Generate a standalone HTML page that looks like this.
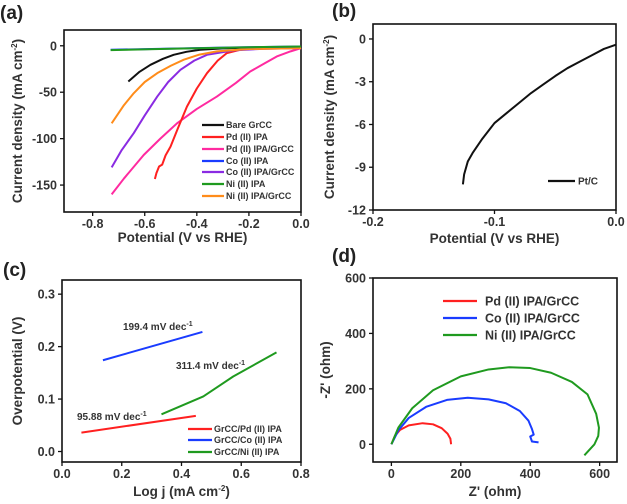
<!DOCTYPE html>
<html><head><meta charset="utf-8"><style>
html,body{margin:0;padding:0;background:#fff;}
svg{display:block;font-family:"Liberation Sans",Arial,sans-serif;font-weight:bold;}
</style></head><body>
<svg id="fig" width="627" height="504" viewBox="0 0 627 504" xmlns="http://www.w3.org/2000/svg"></svg>
<script>
// ---- Panel (a) data ----
const aBareX=[-0.663,-0.62,-0.578,-0.53,-0.489,-0.44,-0.387,-0.3,-0.2,0];
const aBareY=[-38.5,-28,-20.5,-14,-9.7,-6.5,-4.3,-2.8,-2,-1.5];
const aPdX=[-0.561,-0.555,-0.553,-0.545,-0.533,-0.52,-0.501,-0.47,-0.438,-0.4,-0.361,-0.32,-0.285,-0.234,-0.15,0];
const aPdY=[-143.5,-137,-135.6,-130,-128,-118,-108.6,-87,-65.5,-46,-29.5,-16,-7.9,-4.3,-2.5,-1.8];
const aPdGX=[-0.727,-0.68,-0.604,-0.54,-0.476,-0.4,-0.323,-0.25,-0.195,-0.14,-0.093,-0.04,0];
const aPdGY=[-160,-143,-117.6,-100,-83.5,-68,-54.7,-40,-27.7,-19,-11.5,-6,-2.5];
const aCoX=[-0.731,-0.5,-0.25,0];
const aCoY=[-4.3,-3,-1.7,-0.7];
const aCoGX=[-0.727,-0.69,-0.642,-0.6,-0.552,-0.51,-0.463,-0.41,-0.361,-0.259,-0.15,0];
const aCoGY=[-131,-113,-94,-75,-54.7,-39,-25.9,-16,-9.7,-5,-3.3,-2.5];
const aNiX=[-0.731,-0.5,-0.25,0];
const aNiY=[-4.7,-3.2,-1.8,-0.7];
const aNiGX=[-0.727,-0.68,-0.642,-0.6,-0.552,-0.5,-0.45,-0.39,-0.323,-0.2,0];
const aNiGY=[-83.5,-64,-51,-39,-29.5,-21.5,-15,-9.5,-6,-3.5,-2.5];
const aXTicks=[-0.8,-0.6,-0.4,-0.2,0.0];
const aXTickLabels=["-0.8","-0.6","-0.4","-0.2","0.0"];
const aYTicks=[0,-50,-100,-150];
const aYTickLabels=["0","-50","-100","-150"];
const aLegend=["Bare GrCC","Pd (II) IPA","Pd (II) IPA/GrCC","Co (II) IPA","Co (II) IPA/GrCC","Ni (II) IPA","Ni (II) IPA/GrCC"];
// ---- Panel (b) data ----
const bX=[-0.126,-0.125,-0.122,-0.118,-0.11,-0.1,-0.09,-0.08,-0.07,-0.06,-0.05,-0.04,-0.03,-0.02,-0.01,0];
const bY=[-10.2,-9.5,-8.6,-8,-7,-5.9,-5.2,-4.5,-3.8,-3.2,-2.6,-2.05,-1.6,-1.15,-0.7,-0.4];
const bXTicks=[-0.2,-0.1,0.0];
const bXTickLabels=["-0.2","-0.1","0.0"];
const bYTicks=[0,-3,-6,-9,-12];
const bYTickLabels=["0","-3","-6","-9","-12"];
// ---- Panel (c) data ----
const cPdX=[0.065,0.448];
const cPdY=[0.036,0.068];
const cCoX=[0.137,0.47];
const cCoY=[0.174,0.228];
const cNiX=[0.333,0.473,0.573,0.718];
const cNiY=[0.071,0.105,0.143,0.189];
const cXTicks=[0.0,0.2,0.4,0.6,0.8];
const cXTickLabels=["0.0","0.2","0.4","0.6","0.8"];
const cYTicks=[0.0,0.1,0.2,0.3];
const cYTickLabels=["0.0","0.1","0.2","0.3"];
const cLegend=["GrCC/Pd (II) IPA","GrCC/Co (II) IPA","GrCC/Ni (II) IPA"];
// ---- Panel (d) data ----
const dPdX=[0,10,25,50,90,120,145,162,170,172];
const dPdY=[0,30,52,68,76,72,58,38,20,0];
const dCoX=[0,20,50,100,160,220,280,330,370,395,405,410,400,405,424];
const dCoY=[0,50,95,135,160,168,162,148,120,85,55,35,28,10,7];
const dNiX=[0,20,60,120,200,280,340,400,460,520,565,590,598,596,585,556];
const dNiY=[0,60,130,195,245,270,278,275,258,225,180,110,60,30,0,-40];
const dXTicks=[0,200,400,600];
const dXTickLabels=["0","200","400","600"];
const dYTicks=[0,200,400,600];
const dYTickLabels=["0","200","400","600"];
const dLegend=["Pd (II) IPA/GrCC","Co (II) IPA/GrCC","Ni (II) IPA/GrCC"];

const NS="http://www.w3.org/2000/svg";
const svg=document.getElementById('fig');
function mk(tag,attrs,parent){const e=document.createElementNS(NS,tag);for(const k in attrs)e.setAttribute(k,attrs[k]);(parent||svg).appendChild(e);return e;}
function axis(x0,x1,y0,y1,px0,px1,py0,py1){
  return {sx:v=>px0+(v-x0)/(x1-x0)*(px1-px0), sy:v=>py1-(v-y0)/(y1-y0)*(py1-py0), px0,px1,py0,py1};
}
function frame(ax,name,xt,xl,yt,yl,xlab,ylab,ylabX,xlabY){
  const g=mk('g',{});
  
  
  const r=mk('rect',{x:ax.px0,y:ax.py0,width:ax.px1-ax.px0,height:ax.py1-ax.py0,fill:'none',stroke:'#111','stroke-width':1.6},g);
  
  
  xt.forEach((v,i)=>{const x=ax.sx(v);
    mk('line',{x1:x,x2:x,y1:ax.py1,y2:ax.py1+4,stroke:'#111','stroke-width':1.3},g);
    const t=mk('text',{x:x,y:ax.py1+16,'text-anchor':'middle','font-size':12.5,fill:'#333'},g);t.textContent=xl[i];
    
    
  });
  yt.forEach((v,i)=>{const y=ax.sy(v);
    mk('line',{x1:ax.px0-4,x2:ax.px0,y1:y,y2:y,stroke:'#111','stroke-width':1.3},g);
    const t=mk('text',{x:ax.px0-7,y:y+4.5,'text-anchor':'end','font-size':12.5,fill:'#333'},g);t.textContent=yl[i];
    
    
  });
  const xa=mk('text',{x:(ax.px0+ax.px1)/2,y:xlabY,'text-anchor':'middle','font-size':13.5,fill:'#333'},g);
  xa.innerHTML=xlab;
  
  
  const cy=(ax.py0+ax.py1)/2;
  const ya=mk('text',{x:ylabX,y:cy,'text-anchor':'middle','font-size':13.5,fill:'#333',transform:`rotate(-90 ${ylabX} ${cy})`},g);
  ya.innerHTML=ylab;
  
  
}
function line(ax,xs,ys,color,name,w){
  const d=xs.map((x,i)=>(i?'L':'M')+ax.sx(x).toFixed(2)+','+ax.sy(ys[i]).toFixed(2)).join('');
  const p=mk('path',{d:d,fill:'none',stroke:color,'stroke-width':w||2,'stroke-linejoin':'round'});
  
  
}
function legend(items,colors,lx0,lx1,tx,ys,fs,name){
  items.forEach((s,i)=>{
    const l=mk('line',{x1:lx0,x2:lx1,y1:ys[i],y2:ys[i],stroke:colors[i],'stroke-width':2.2});
    
    
    const t=mk('text',{x:tx,y:ys[i]+fs*0.36,'font-size':fs,fill:'#333'});t.textContent=s;
    
    
  });
}
function plabel(s,x,y,name){const t=mk('text',{x:x,y:y,'font-size':19,fill:'#222'});t.textContent=s;
  
  }

// Panel a
const A=axis(-0.91,0,-179,17,64,301,30,212);
frame(A,'panel-a',aXTicks,aXTickLabels,aYTicks,aYTickLabels,'Potential (V vs RHE)','Current density (mA cm<tspan dy="-5" font-size="8">-2</tspan><tspan dy="5">)</tspan>',22,242);
const aCols=['#111','#ff2020','#ff2aa0','#1a3cff','#8a2be2','#1f9a1f','#ff8c1a'];
line(A,aBareX,aBareY,aCols[0],'bare-grcc-curve');
line(A,aPdGX,aPdGY,aCols[2],'pd-ipa-grcc-curve');
line(A,aPdX,aPdY,aCols[1],'pd-ipa-curve');
line(A,aCoGX,aCoGY,aCols[4],'co-ipa-grcc-curve');
line(A,aNiGX,aNiGY,aCols[6],'ni-ipa-grcc-curve');
line(A,aCoX,aCoY,aCols[3],'co-ipa-curve');
line(A,aNiX,aNiY,aCols[5],'ni-ipa-curve');
legend(aLegend,aCols,202,224,226,[125,137,149,161,172,184,196],9,'legend-a');
plabel('(a)',0,19,'panel-label-a');

// Panel b
const B=axis(-0.2,0,-12,1.05,373,616,24,210);
frame(B,'panel-b',bXTicks,bXTickLabels,bYTicks,bYTickLabels,'Potential (V vs RHE)','Current density (mA cm<tspan dy="-5" font-size="8">-2</tspan><tspan dy="5">)</tspan>',334,243);
line(B,bX,bY,'#111','pt-c-curve');
legend(['Pt/C'],['#111'],548,575,578,[181],10,'legend-b');
plabel('(b)',332,17,'panel-label-b');

// Panel c
const C=axis(0,0.8,-0.02,0.327,62,301,280,462);
frame(C,'panel-c',cXTicks,cXTickLabels,cYTicks,cYTickLabels,'Log j (mA cm<tspan dy="-5" font-size="8">-2</tspan><tspan dy="5">)</tspan>','Overpotential (V)',22,496);
const cCols=['#ff2020','#1a3cff','#1f9a1f'];
line(C,cPdX,cPdY,cCols[0],'tafel-pd-line');
line(C,cCoX,cCoY,cCols[1],'tafel-co-line');
line(C,cNiX,cNiY,cCols[2],'tafel-ni-line');
legend(cLegend,cCols,188,212,214,[429,440,452],9,'legend-c');
[['199.4 mV dec',123,330],['311.4 mV dec',176,369],['95.88 mV dec',77,420]].forEach(a=>{
  const t=mk('text',{x:a[1],y:a[2],'font-size':10,fill:'#333'});t.innerHTML=a[0]+'<tspan dy="-4" font-size="7">-1</tspan>';
  
  
});
plabel('(c)',3,276,'panel-label-c');

// Panel d
const D=axis(-53,650,-64,600,373,617,278,462);
frame(D,'panel-d',dXTicks,dXTickLabels,dYTicks,dYTickLabels,"Z' (ohm)","-Z' (ohm)",330,496);
const dCols=['#ff2020','#1a3cff','#1f9a1f'];
line(D,dPdX,dPdY,dCols[0],'nyquist-pd-curve');
line(D,dCoX,dCoY,dCols[1],'nyquist-co-curve');
line(D,dNiX,dNiY,dCols[2],'nyquist-ni-curve');
legend(dLegend,dCols,443,477,485,[301,318,335],12.5,'legend-d');
plabel('(d)',332,262,'panel-label-d');
</script>
</body></html>
